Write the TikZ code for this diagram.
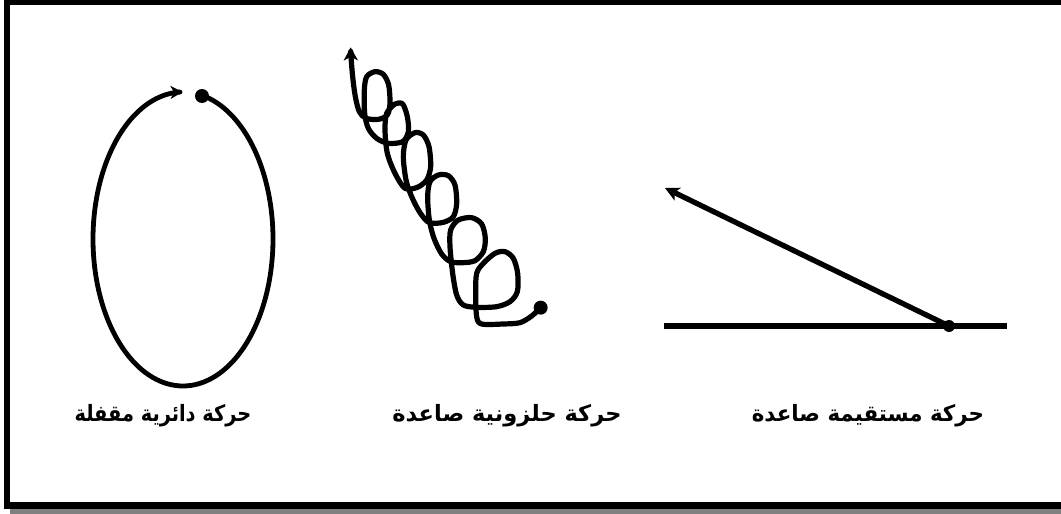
\documentclass[tikz,border=0pt]{standalone}
\usepackage{fontspec}
\newfontfamily\arabicfont[Script=Arabic]{DejaVu Sans}
\TeXXeTstate=1
\usetikzlibrary{arrows.meta}
\begin{document}
\begin{tikzpicture}[x=1pt,y=-1pt,
  dotnode/.style={circle,fill=black,inner sep=0pt,minimum size=#1},
  motion/.style={line width=4.8pt, line cap=round, line join=round},
  lbl/.style={font=\arabicfont\bfseries\fontsize{22.5}{26}\selectfont, inner sep=0pt, anchor=base}
]
\useasboundingbox (0,0) rectangle (1061,514);
\clip (0,0) rectangle (1061,514);
% frame with shadow
\fill[black!50] (10,508) rectangle (1075,520);
\draw[line width=6.5pt] (7,1.5) rectangle (1068,505.5);

% closed circular motion
\node[dotnode=14pt] (d1) at (202,96) {};
\draw[motion, -{Stealth[length=12pt,width=13pt,inset=3.5pt]}]
  plot[domain=0:347.5, samples=140, smooth] ({183+90*cos(77.8-\x)},{239-147*sin(77.8-\x)});

% helical motion
\begin{scope}[xshift=330pt, yshift=-30pt, x=0.33333pt, y=-0.33333pt]
\node[dotnode=14pt] (d2) at (632,833) {};
\draw[line width=5.2pt, line cap=round, line join=round, -{Stealth[length=13pt,width=14pt,inset=3.5pt]}]
  plot[smooth, tension=0.5] coordinates {
  (632,833) (605,858) (570,878) (520,882) (455,882) (440,860) (437,790) (440,730)
  (460,700) (495,670) (525,665) (550,685) (563,730) (562,785) (540,815) (500,830)
  (440,832) (400,825) (380,795) (368,730) (360,650) (362,600) (385,570) (425,563)
  (455,582) (466,625) (460,665) (435,692) (400,698) (362,695) (335,672) (312,625)
  (298,570) (293,500) (300,455) (325,435) (355,437) (375,465) (380,520) (370,560)
  (340,577) (298,578) (270,548) (245,500) (228,450) (220,380) (228,330) (255,308)
  (280,315) (297,350) (302,410) (290,450) (262,472) (225,475) (195,430) (172,370)
  (165,300) (170,250) (195,222) (218,222) (232,260) (235,305) (218,335) (175,340)
  (140,325) (115,295) (104,250) (103,180) (110,140) (135,125) (160,133) (176,165)
  (180,220) (172,255) (145,268) (108,265) (88,245) (76,200) (68,140) (63,80) (62,52)};
\end{scope}

% straight rising motion
\coordinate (h1) at (664,326);
\coordinate (h2) at (1007,326);
\draw[line width=5.5pt] (h1) -- (h2);
\node[dotnode=12pt] (d3) at (949,326) {};
\coordinate (t3) at (665,188);
\draw[line width=5.3pt, -{Stealth[length=14pt,width=14pt,inset=3.5pt]}] (d3.center) -- (t3);

% labels
\node[lbl, xscale=0.86] (l1) at (163,421) {\beginR حركة دائرية مقفلة\endR};
\node[lbl] (l2) at (507,421) {\beginR حركة حلزونية صاعدة\endR};
\node[lbl, xscale=0.95] (l3) at (868,421) {\beginR حركة مستقيمة صاعدة\endR};
\end{tikzpicture}
\end{document}
